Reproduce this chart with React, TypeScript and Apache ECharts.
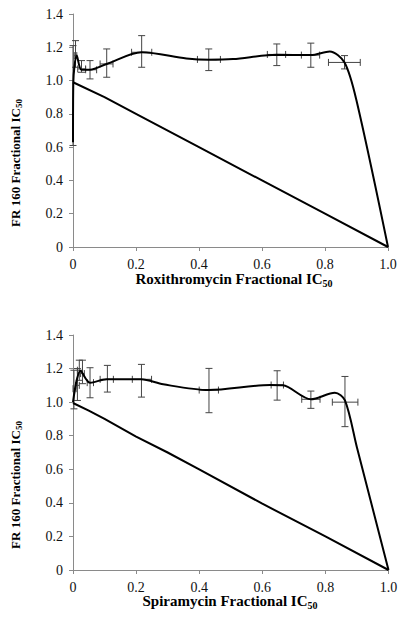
import React, { useEffect, useRef } from "react";
import * as echarts from "echarts";

// ---- Data: top panel (Roxithromycin) ----
const roxCurveX = [0, 0.001, 0.012, 0.027, 0.054, 0.107, 0.218, 0.36, 0.431, 0.508, 0.647, 0.755, 0.815, 0.862, 0.9, 1.0];
const roxCurveY = [0.63, 0.99, 1.15, 1.065, 1.065, 1.1, 1.17, 1.133, 1.125, 1.129, 1.155, 1.153, 1.175, 1.109, 0.88, 0.0];
const roxLineX = [0, 0.1, 0.2, 0.4, 0.6, 0.8, 1.0];
const roxLineY = [0.99, 0.9, 0.8, 0.6, 0.4, 0.2, 0.0];
// error bars: x, y, yLow, yHigh, xLow, xHigh
const roxErr = [
  [0, 0.91, 0.61, 1.21, 0, 0],
  [0.008, 1.15, 1.08, 1.24, 0.004, 0.012],
  [0.027, 1.07, 1.05, 1.12, 0.015, 0.04],
  [0.054, 1.065, 1.01, 1.12, 0.04, 0.075],
  [0.107, 1.1, 1.02, 1.19, 0.086, 0.127],
  [0.218, 1.17, 1.08, 1.27, 0.186, 0.25],
  [0.431, 1.127, 1.06, 1.19, 0.395, 0.468],
  [0.647, 1.157, 1.09, 1.22, 0.617, 0.675],
  [0.755, 1.153, 1.08, 1.225, 0.725, 0.783],
  [0.862, 1.109, 1.07, 1.15, 0.811, 0.912],
];

// ---- Data: bottom panel (Spiramycin) ----
const spiCurveX = [0, 0.024, 0.054, 0.107, 0.216, 0.286, 0.43, 0.625, 0.665, 0.754, 0.83, 0.862, 0.9, 1.0];
const spiCurveY = [1.0, 1.187, 1.116, 1.136, 1.136, 1.106, 1.072, 1.102, 1.1, 1.017, 1.056, 1.01, 0.73, 0.0];
const spiLineX = [0, 0.05, 0.1, 0.2, 0.3, 0.4, 0.6, 0.8, 1.0];
const spiLineY = [0.995, 0.95, 0.9, 0.795, 0.7, 0.6, 0.395, 0.2, 0.0];
const spiErr = [
  [0.003, 1.08, 0.96, 1.19, 0, 0.01],
  [0.014, 1.1, 1.01, 1.2, 0.008, 0.02],
  [0.02, 1.19, 1.13, 1.25, 0.014, 0.03],
  [0.03, 1.17, 1.11, 1.25, 0.024, 0.036],
  [0.054, 1.116, 1.026, 1.205, 0.045, 0.065],
  [0.109, 1.136, 1.06, 1.219, 0.086, 0.128],
  [0.217, 1.136, 1.03, 1.225, 0.188, 0.249],
  [0.431, 1.072, 0.937, 1.201, 0.4, 0.461],
  [0.647, 1.102, 1.012, 1.187, 0.628, 0.667],
  [0.754, 1.017, 0.963, 1.066, 0.725, 0.783],
  [0.862, 1.0, 0.854, 1.153, 0.822, 0.903],
];

const xTicks = [0, 0.2, 0.4, 0.6, 0.8, 1.0];
const yTicks = [0, 0.2, 0.4, 0.6, 0.8, 1.0, 1.2, 1.4];

const FONT = "'Liberation Serif', 'Times New Roman', serif";
const AXIS_COLOR = "#8a8a8a";
const ERR_COLOR = "#444";

const zip = (xs: number[], ys: number[]) => xs.map((x, i) => [x, ys[i]]);

function errRender(params: any, api: any) {
  const x = api.value(0);
  const yl = api.value(2);
  const yh = api.value(3);
  const xl = api.value(4);
  const xh = api.value(5);
  const y = api.value(1);
  const lo = api.coord([x, yl]);
  const hi = api.coord([x, yh]);
  const c = 3.5;
  const style = { stroke: ERR_COLOR, lineWidth: 1 };
  const children: any[] = [
    { type: "line", shape: { x1: lo[0], y1: lo[1], x2: hi[0], y2: hi[1] }, style },
    { type: "line", shape: { x1: lo[0] - c, y1: lo[1], x2: lo[0] + c, y2: lo[1] }, style },
    { type: "line", shape: { x1: hi[0] - c, y1: hi[1], x2: hi[0] + c, y2: hi[1] }, style },
  ];
  if (xh > xl) {
    const l = api.coord([xl, y]);
    const r = api.coord([xh, y]);
    children.push(
      { type: "line", shape: { x1: l[0], y1: l[1], x2: r[0], y2: r[1] }, style },
      { type: "line", shape: { x1: l[0], y1: l[1] - c, x2: l[0], y2: l[1] + c }, style },
      { type: "line", shape: { x1: r[0], y1: r[1] - c, x2: r[0], y2: r[1] + c }, style }
    );
  }
  return { type: "group", children };
}

const fmt = (v: number) => (v === 0 ? "0" : v.toFixed(1));

function makeX(gridIndex: number) {
  return {
    type: "value",
    gridIndex,
    min: xTicks[0],
    max: xTicks[xTicks.length - 1],
    interval: 0.2,
    axisLine: { show: true, lineStyle: { color: AXIS_COLOR, width: 1 } },
    axisTick: { show: true, length: 4, lineStyle: { color: AXIS_COLOR } },
    splitLine: { show: false },
    axisLabel: { formatter: fmt, color: "#111", fontFamily: FONT, fontSize: 14, margin: 10 },
  };
}
function makeY(gridIndex: number) {
  return {
    type: "value",
    gridIndex,
    min: yTicks[0],
    max: yTicks[yTicks.length - 1],
    interval: 0.2,
    axisLine: { show: true, lineStyle: { color: AXIS_COLOR, width: 1 } },
    axisTick: { show: true, length: 4, lineStyle: { color: AXIS_COLOR } },
    splitLine: { show: false },
    axisLabel: { formatter: fmt, color: "#111", fontFamily: FONT, fontSize: 14, margin: 10 },
  };
}

const richX = {
  a: { fontFamily: FONT, fontSize: 15, fontWeight: "bold", color: "#111" },
  s: { fontFamily: FONT, fontSize: 10, fontWeight: "bold", color: "#111", padding: [8, 0, 0, 0] },
};
const richY = {
  a: { fontFamily: FONT, fontSize: 13, fontWeight: "bold", color: "#111" },
  s: { fontFamily: FONT, fontSize: 9, fontWeight: "bold", color: "#111", padding: [7, 0, 0, 0] },
};

function title(text: string, x: number, y: number, rotate: boolean) {
  return {
    type: "text",
    x,
    y,
    rotation: rotate ? Math.PI / 2 : 0,
    style: {
      text,
      align: "center",
      verticalAlign: "middle",
      rich: rotate ? richY : richX,
      fontFamily: FONT,
    },
  };
}

export default function App() {
  const ref = useRef<HTMLDivElement>(null);
  useEffect(() => {
    if (!ref.current) return;
    const chart = echarts.init(ref.current, null, { renderer: "svg" });
    const lineStyle = { color: "#000", width: 2 };
    chart.setOption({
      animation: false,
      backgroundColor: "#fff",
      grid: [
        { left: 73, top: 14, width: 315, height: 233 },
        { left: 73, top: 335, width: 315.5, height: 235 },
      ],
      xAxis: [makeX(0), makeX(1)],
      yAxis: [makeY(0), makeY(1)],
      graphic: [
        title("{a|FR 160 Fractional IC}{s|50}", 15, 163, true),
        title("{a|Roxithromycin Fractional IC}{s|50}", 234, 279, false),
        title("{a|FR 160 Fractional IC}{s|50}", 15, 485, true),
        title("{a|Spiramycin Fractional IC}{s|50}", 230, 601, false),
      ],
      series: [
        { type: "custom", xAxisIndex: 0, yAxisIndex: 0, renderItem: errRender, data: roxErr, z: 1, clip: false },
        { type: "line", xAxisIndex: 0, yAxisIndex: 0, data: zip(roxCurveX, roxCurveY), smooth: 0.3, showSymbol: false, lineStyle, z: 3 },
        { type: "line", xAxisIndex: 0, yAxisIndex: 0, data: zip(roxLineX, roxLineY), showSymbol: false, lineStyle, z: 3 },
        { type: "custom", xAxisIndex: 1, yAxisIndex: 1, renderItem: errRender, data: spiErr, z: 1, clip: false },
        { type: "line", xAxisIndex: 1, yAxisIndex: 1, data: zip(spiCurveX, spiCurveY), smooth: 0.3, showSymbol: false, lineStyle, z: 3 },
        { type: "line", xAxisIndex: 1, yAxisIndex: 1, data: zip(spiLineX, spiLineY), showSymbol: false, lineStyle, z: 3 },
      ],
    });
    return () => chart.dispose();
  }, []);
  return (
    <div
      ref={ref}
      style={{ position: "absolute", left: 0, top: 0, width: 406, height: 617, background: "#fff" }}
    />
  );
}
